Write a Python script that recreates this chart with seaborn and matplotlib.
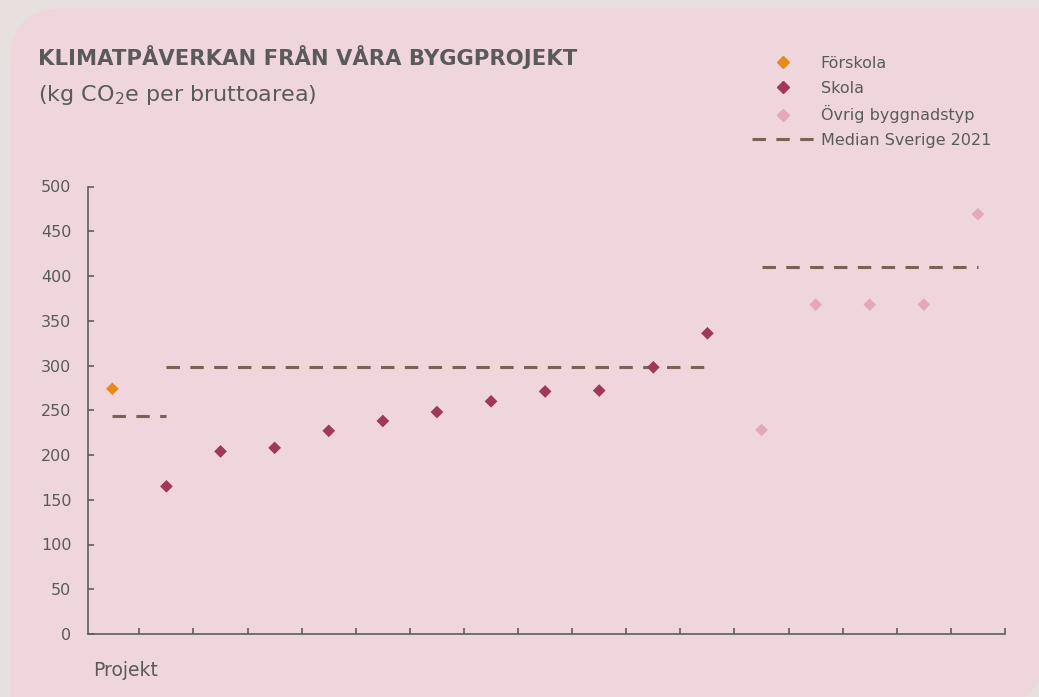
import numpy as np
import pandas as pd
import matplotlib.pyplot as plt
import seaborn as sns
from matplotlib.lines import Line2D
from matplotlib.patches import FancyBboxPatch, Rectangle

# data
types = ['Förskola'] + ['Skola'] * 11 + ['Övrig byggnadstyp'] * 5
values = [274, 165, 204, 208, 227, 238, 248, 260, 271, 272, 298, 336,
          228, 368, 368, 368, 469]
median_groups = ['Förskola', 'Skola', 'Övrig byggnadstyp']
median_values = [244, 298, 410]
median_first = [0, 1, 12]
median_last = [1, 11, 16]

palette = {'Förskola': '#E8891C', 'Skola': '#A03858', 'Övrig byggnadstyp': '#E2A9BA'}
median_color = '#7B6257'
text_color = '#5A5A5A'
pink = '#EFD6DD'

df = pd.DataFrame({'projekt': np.arange(len(values)), 'typ': types, 'co2': values})

sns.set_style("ticks")
plt.rcParams['font.family'] = ['DejaVu Sans']

fig = plt.figure(figsize=(10.39, 6.97), dpi=100)
fig.patch.set_facecolor('#E8E0DE')
# background card: rounded top-left and bottom-right corners
bg = [FancyBboxPatch((0.10, -0.08), 10.35, 6.97, boxstyle="round,pad=0,rounding_size=0.55"),
      Rectangle((0.10, -0.08), 1.0, 1.0),
      Rectangle((9.45, 5.89), 1.0, 1.0)]
for p in bg:
    p.set_transform(fig.dpi_scale_trans)
    p.set_facecolor(pink)
    p.set_edgecolor('none')
    p.set_zorder(-5)
    fig.patches.append(p)

ax = fig.add_axes([88 / 1039, 63 / 697, 917 / 1039, 447.5 / 697])
ax.patch.set_alpha(0)

sns.scatterplot(data=df, x='projekt', y='co2', hue='typ', palette=palette,
                marker='D', s=42, linewidth=0, legend=False, ax=ax, zorder=3)

for a, b, m in zip(median_first, median_last, median_values):
    ax.plot([a, b], [m, m], color=median_color, lw=2.2, dashes=(4.4, 3.4),
            dash_capstyle='butt', zorder=2)

ax.set_xlim(-0.45, len(values) - 0.5)
ax.set_ylim(0, 500)
ax.set_yticks(range(0, 501, 50))
ax.set_xticks(np.arange(0.5, len(values), 1))
ax.set_xticklabels([])
ax.set_xlabel('')
ax.set_ylabel('')
sns.despine(ax=ax)
for s in ['left', 'bottom']:
    ax.spines[s].set_color('#5E5E5E')
    ax.spines[s].set_linewidth(1.2)
ax.tick_params(axis='both', direction='in', length=4, width=1.2, color='#5E5E5E',
               labelcolor=text_color, labelsize=11.5)
ax.tick_params(axis='y', pad=12)

fig.text(38 / 1039, 1 - 65 / 697, 'KLIMATPÅVERKAN FRÅN VÅRA BYGGPROJEKT',
         fontsize=15.2, fontweight='bold', color=text_color, va='baseline')
fig.text(38 / 1039, 1 - 101 / 697, '(kg CO$_2$e per bruttoarea)',
         fontsize=16, color=text_color, va='baseline')
fig.text(93 / 1039, 1 - 676 / 697, 'Projekt', fontsize=13.5, color=text_color,
         va='baseline')

handles = [Line2D([], [], marker='D', color=palette[g], linestyle='none', markersize=6.5)
           for g in median_groups]
handles.append(Line2D([], [], color=median_color, lw=2.2, dashes=(4.4, 3.4)))
labels = median_groups + ['Median Sverige 2021']
fig.legend(handles, labels, loc='upper left', bbox_to_anchor=(752 / 1039, 1 - 56 / 697),
           frameon=False, fontsize=11.5, labelcolor=text_color, handlelength=3.9,
           handletextpad=0.4, labelspacing=0.6, borderpad=0, borderaxespad=0)

fig.savefig('out.png', dpi=100, facecolor=fig.get_facecolor())
